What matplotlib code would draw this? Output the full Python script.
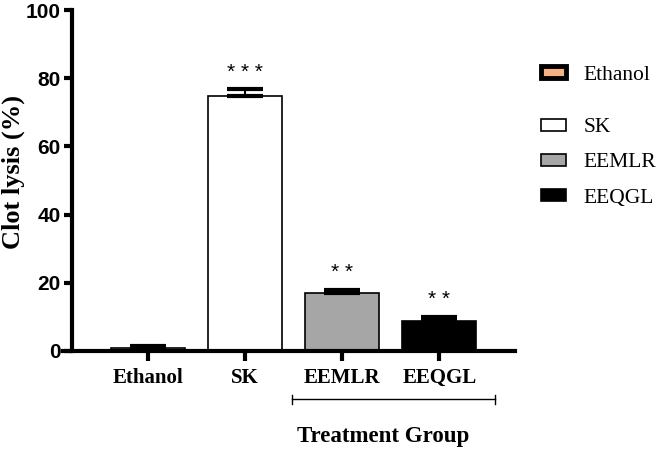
import matplotlib.pyplot as plt
from matplotlib.patches import Patch
import numpy as np

groups = ["Ethanol", "SK", "EEMLR", "EEQGL"]
means = [1.0, 74.7, 17.0, 8.7]
errs = [0.6, 2.1, 0.9, 1.3]
stars = ["", "* * *", "* *", "* *"]
colors = ["#f4b183", "white", "#a6a6a6", "black"]

serif = "Liberation Serif"
sans = "Liberation Sans"

fig = plt.figure(figsize=(6.58, 4.51), dpi=100)
ax = fig.add_axes([63 / 658, 100 / 451, 452 / 658, 341 / 451])

x = np.arange(len(groups))
ax.bar(x, means, width=0.76, color=colors, edgecolor="black", linewidth=1.2, zorder=2)
ax.errorbar(x, means, yerr=[np.zeros(len(x)), errs], fmt="none", ecolor="black",
            elinewidth=1.5, capsize=13, capthick=3, zorder=3)
for xi, m, e, s in zip(x, means, errs, stars):
    if s:
        ax.text(xi, m + e + 5, s, ha="center", va="center", fontsize=15, family=sans)

ax.set_xlim(-0.876, 3.78)
ax.set_ylim(0, 100)
ax.spines["left"].set_position(("data", -0.784))
ax.spines["left"].set_bounds(0, 100)
for sp in ["top", "right"]:
    ax.spines[sp].set_visible(False)
for sp in ["left", "bottom"]:
    ax.spines[sp].set_linewidth(3)

ax.set_yticks([0, 20, 40, 60, 80, 100])
ax.set_yticklabels(["0", "20", "40", "60", "80", "100"], family=sans, fontweight="bold", fontsize=15)
ax.set_xticks(x)
ax.set_xticklabels(groups, family=serif, fontweight="bold", fontsize=15)
ax.tick_params(axis="y", length=6, width=3, pad=2)
ax.tick_params(axis="x", length=7, width=3, pad=5)

ax.set_ylabel("Clot lysis (%)", family=serif, fontweight="bold", fontsize=19, labelpad=0)
ax.yaxis.set_label_coords(-0.083, 0.525)

# bracket under the extracts
by = -14.1
ax.plot([1.485, 3.577], [by, by], color="black", lw=1, clip_on=False)
for bx in [1.485, 3.577]:
    ax.plot([bx, bx], [by - 1.3, by + 1.3], color="black", lw=1, clip_on=False)
ax.text(2.42, -25.2, "Treatment Group", ha="center", va="center", family=serif,
        fontweight="bold", fontsize=16.5, clip_on=False)

lprop = {"family": serif, "size": 15.5}
h1 = [Patch(facecolor=colors[0], edgecolor="black", linewidth=3.5, label=groups[0])]
h2 = [Patch(facecolor=c, edgecolor="black", linewidth=1.2, label=g) for c, g in zip(colors[1:], groups[1:])]
fig.legend(handles=h1, loc="center left", bbox_to_anchor=(522 / 658, 1 - 75 / 451),
           frameon=False, prop=lprop, handlelength=1.16, handleheight=0.47, handletextpad=0.8)
fig.legend(handles=h2, loc="center left", bbox_to_anchor=(522 / 658, 1 - 163 / 451),
           frameon=False, prop=lprop, handlelength=1.16, handleheight=0.47, handletextpad=0.8,
           labelspacing=0.75)

fig.savefig("out.png", dpi=100)
